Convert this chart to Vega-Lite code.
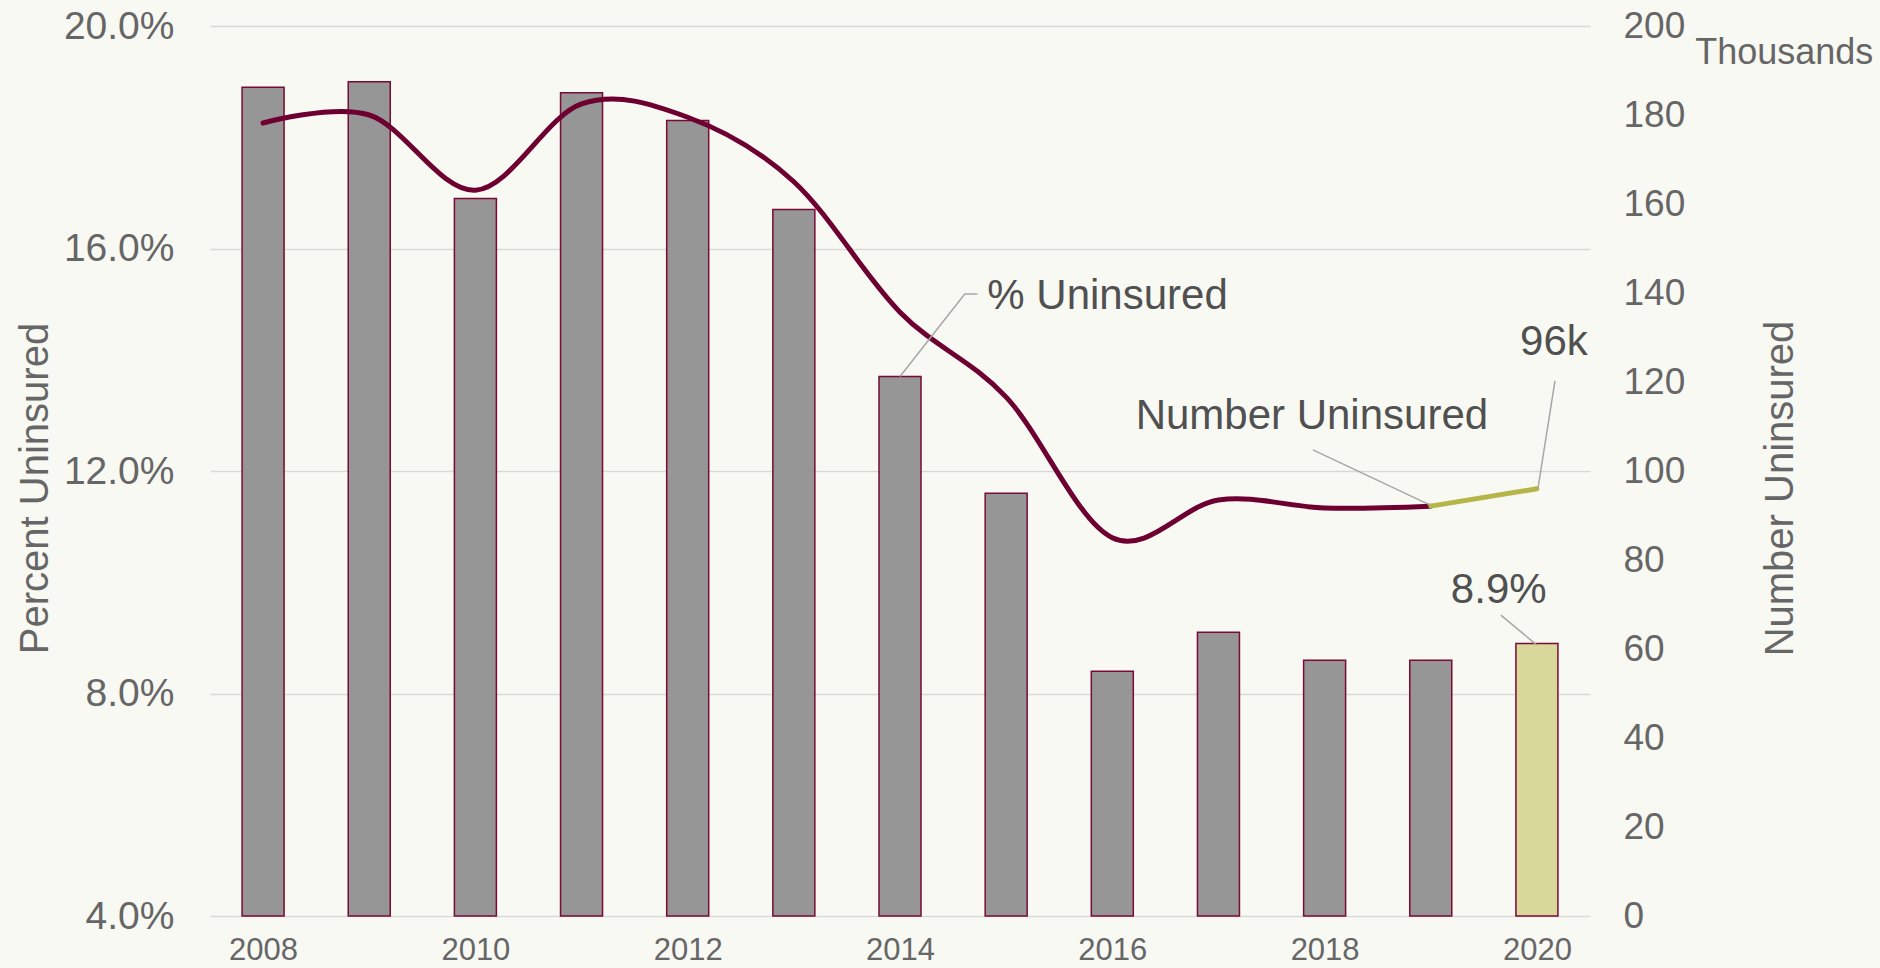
{
  "$schema": "https://vega.github.io/schema/vega-lite/v6.json",
  "autosize": {"type": "none"},
  "width": 1380,
  "height": 890,
  "padding": {"left": 210, "top": 26, "right": 290, "bottom": 52},
  "background": "#f9f9f4",
  "config": {
    "view": {"stroke": null},
    "font": "Liberation Sans",
    "axis": {"labelFont": "Liberation Sans", "titleFont": "Liberation Sans"},
    "scale": {"continuousPadding": 0}
  },
  "datasets": {
    "main": [
      {"year": 2008, "pct": 18.9, "num": 178.2},
      {"year": 2009, "pct": 19.0, "num": 180.0},
      {"year": 2010, "pct": 16.9, "num": 163.1},
      {"year": 2011, "pct": 18.8, "num": 182.5},
      {"year": 2012, "pct": 18.3, "num": 179.5},
      {"year": 2013, "pct": 16.7, "num": 165.0},
      {"year": 2014, "pct": 13.7, "num": 135.7},
      {"year": 2015, "pct": 11.6, "num": 116.6},
      {"year": 2016, "pct": 8.4, "num": 85.0},
      {"year": 2017, "pct": 9.1, "num": 93.5},
      {"year": 2018, "pct": 8.6, "num": 91.7},
      {"year": 2019, "pct": 8.6, "num": 92.1},
      {"year": 2020, "pct": 8.9, "num": 96.0}
    ],
    "labels": [
      {"label": "% Uninsured", "x": 2015.955, "y": 14.91},
      {"label": "Number Uninsured", "x": 2017.88, "y": 12.755},
      {"label": "96k", "x": 2020.16, "y": 14.09},
      {"label": "8.9%", "x": 2019.64, "y": 9.63}
    ],
    "units": [
      {"label": "Thousands", "x": 2022.33, "y": 19.32}
    ],
    "leaders": [
      {"id": "a", "o": 0, "x": 2014.0, "y": 13.7},
      {"id": "a", "o": 1, "x": 2014.61, "y": 15.18},
      {"id": "a", "o": 2, "x": 2014.73, "y": 15.18},
      {"id": "b", "o": 0, "x": 2017.89, "y": 12.38},
      {"id": "b", "o": 1, "x": 2018.99, "y": 11.39},
      {"id": "c", "o": 0, "x": 2020.17, "y": 13.62},
      {"id": "c", "o": 1, "x": 2020.01, "y": 11.69},
      {"id": "d", "o": 0, "x": 2019.66, "y": 9.41},
      {"id": "d", "o": 1, "x": 2020.0, "y": 8.87}
    ]
  },
  "layer": [
    {
      "data": {"name": "main"},
      "mark": {"type": "bar", "size": 42, "stroke": "#7a0a35", "strokeWidth": 1.5},
      "encoding": {
        "x": {
          "field": "year", "type": "quantitative",
          "scale": {"domain": [2007.5, 2020.5], "nice": false, "zero": false, "padding": 0},
          "axis": {
            "values": [2008, 2010, 2012, 2014, 2016, 2018, 2020],
            "format": "d", "grid": false, "domain": false, "ticks": false,
            "labelFontSize": 31, "labelColor": "#666666", "labelPadding": 19,
            "title": null
          }
        },
        "y": {
          "field": "pct", "type": "quantitative",
          "scale": {"domain": [4, 20], "nice": false, "zero": false, "padding": 0},
          "axis": {
            "values": [4, 8, 12, 16, 20],
            "labelExpr": "format(datum.value, '.1f') + '%'",
            "grid": true, "gridColor": "#d9d9d9", "gridWidth": 1.5,
            "domain": false, "ticks": false,
            "labelFontSize": 39, "labelColor": "#666666", "labelPadding": 36,
            "title": "Percent Uninsured", "titleFontSize": 40, "titleFontWeight": "normal",
            "titleColor": "#666666", "titleAngle": 270, "titleX": -163, "titleY": 462,
            "titleAlign": "center", "titleBaseline": "alphabetic"
          }
        },
        "y2": {"datum": 4},
        "fill": {
          "condition": {"test": "datum.year === 2020", "value": "#d8d89b"},
          "value": "#969696"
        }
      }
    },
    {
      "data": {"name": "main"},
      "transform": [{"filter": "datum.year <= 2019"}],
      "mark": {"type": "line", "interpolate": "cardinal", "color": "#6d0031", "strokeWidth": 5, "strokeCap": "round"},
      "encoding": {
        "x": {"field": "year", "type": "quantitative", "scale": {"domain": [2007.5, 2020.5], "nice": false, "zero": false}},
        "y": {
          "field": "num", "type": "quantitative",
          "scale": {"domain": [0, 200], "nice": false},
          "axis": {
            "orient": "right",
            "values": [0, 20, 40, 60, 80, 100, 120, 140, 160, 180, 200],
            "grid": false, "domain": false, "ticks": false,
            "labelFontSize": 37, "labelColor": "#666666", "labelPadding": 33, "labelAlign": "left",
            "title": "Number Uninsured", "titleFontSize": 40, "titleFontWeight": "normal",
            "titleColor": "#666666", "titleAngle": 270, "titleX": 202, "titleY": 462,
            "titleAlign": "center", "titleBaseline": "alphabetic"
          }
        }
      }
    },
    {
      "data": {"name": "main"},
      "transform": [{"filter": "datum.year >= 2019"}],
      "mark": {"type": "line", "interpolate": "linear", "color": "#b5b54a", "strokeWidth": 5, "strokeCap": "round"},
      "encoding": {
        "x": {"field": "year", "type": "quantitative", "scale": {"domain": [2007.5, 2020.5], "nice": false, "zero": false}},
        "y": {"field": "num", "type": "quantitative", "scale": {"domain": [0, 200], "nice": false}, "axis": null}
      }
    },
    {
      "data": {"name": "leaders"},
      "mark": {"type": "line", "color": "#a6a6a6", "strokeWidth": 1.5},
      "encoding": {
        "x": {"field": "x", "type": "quantitative", "scale": {"domain": [2007.5, 2020.5], "nice": false, "zero": false}},
        "y": {"field": "y", "type": "quantitative", "scale": {"domain": [4, 20], "nice": false, "zero": false}, "axis": null},
        "detail": {"field": "id"},
        "order": {"field": "o"}
      }
    },
    {
      "data": {"name": "labels"},
      "mark": {"type": "text", "fontSize": 42, "color": "#505050", "align": "center", "baseline": "alphabetic", "font": "Liberation Sans"},
      "encoding": {
        "x": {"field": "x", "type": "quantitative", "scale": {"domain": [2007.5, 2020.5], "nice": false, "zero": false}},
        "y": {"field": "y", "type": "quantitative", "scale": {"domain": [4, 20], "nice": false, "zero": false}, "axis": null},
        "text": {"field": "label"}
      }
    },
    {
      "data": {"name": "units"},
      "mark": {"type": "text", "fontSize": 36, "color": "#666666", "align": "center", "baseline": "alphabetic", "font": "Liberation Sans"},
      "encoding": {
        "x": {"field": "x", "type": "quantitative", "scale": {"domain": [2007.5, 2020.5], "nice": false, "zero": false}},
        "y": {"field": "y", "type": "quantitative", "scale": {"domain": [4, 20], "nice": false, "zero": false}, "axis": null},
        "text": {"field": "label"}
      }
    }
  ],
  "resolve": {"scale": {"y": "independent"}}
}
